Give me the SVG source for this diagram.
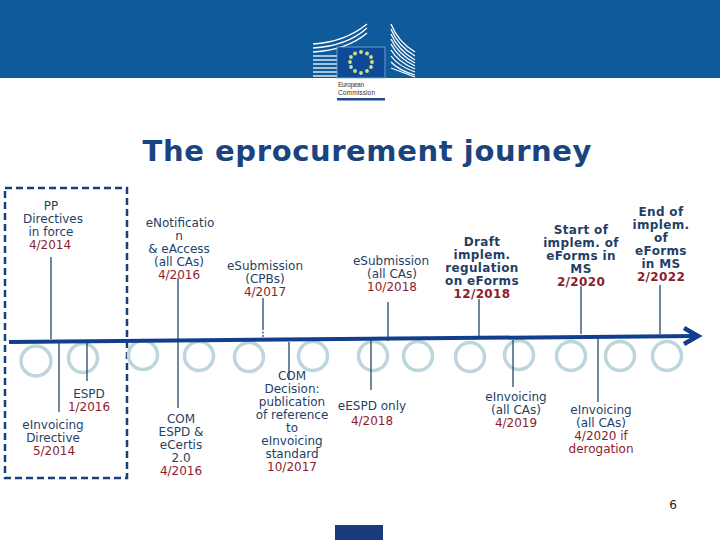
<svg xmlns="http://www.w3.org/2000/svg" width="720" height="540" viewBox="0 0 720 540">
<style>
text{font-family:"DejaVu Sans","Liberation Sans",sans-serif;text-anchor:middle;font-size:12px;fill:#1f3f66}
.d{fill:#8c1c2c}
.b{font-weight:bold;fill:#1f3f66;letter-spacing:.35px}
.bd{font-weight:bold;fill:#8c1c2c;letter-spacing:.35px}
.ring{fill:none;stroke:#bcd6dc;stroke-width:3.5}
.tick{fill:none;stroke:#17375e;stroke-width:1.2}
.bl{fill:none;stroke:#fff;stroke-width:1.3}
</style>
<defs><circle id="s" r="1.9" fill="#cfe08a"/></defs>
<rect width="720" height="540" fill="#fff"/>
<g id="header">
<rect width="720" height="78" fill="#0f5a9a"/>
<g class="bl">
<path d="M313 44Q345 42 367 24"/><path d="M313 48Q347 46 367 28"/><path d="M313 52Q347 50 367 33"/><path d="M313 56H337"/><path d="M313 60H337"/><path d="M313 64H337"/><path d="M313 68H337"/><path d="M313 72H337"/><path d="M313 76H337"/>
<path d="M391 24Q398 42 415 52"/><path d="M391 29Q398 46 415 56"/><path d="M391 34Q398 50 415 60"/><path d="M391 39Q398 54 415 63"/><path d="M391 44Q398 58 415 66"/><path d="M391 50Q398 62 415 69"/><path d="M391 56Q398 66 415 72"/><path d="M391 62Q398 70 415 75"/><path d="M391 68L415 77"/>
</g>
<rect x="337" y="47" width="48" height="31" fill="#0f4a96" stroke="#7fb0d8" stroke-width=".8"/>
<use href="#s" x="361" y="52"/><use href="#s" x="367" y="53.500"/><use href="#s" x="371" y="57"/><use href="#s" x="372" y="62"/><use href="#s" x="371" y="67"/><use href="#s" x="367" y="71"/><use href="#s" x="361" y="73"/><use href="#s" x="355" y="71"/><use href="#s" x="351" y="67"/><use href="#s" x="350" y="62"/><use href="#s" x="351" y="57"/><use href="#s" x="355" y="53.500"/>
<text x="338" y="87" textLength="26" style="font-size:6.500px;text-anchor:start;fill:#333;font-family:'Liberation Sans',sans-serif">European</text>
<text x="338" y="95" textLength="37" style="font-size:6.500px;text-anchor:start;fill:#333;font-family:'Liberation Sans',sans-serif">Commission</text>
<rect x="337" y="98" width="48" height="2.500" fill="#1f4a8c"/>
</g>
<text id="title" x="367" y="161" style="font-size:29px;font-weight:bold;fill:#1a4480" textLength="449" lengthAdjust="spacing">The eprocurement journey</text>
<rect id="frame" x="5" y="188" width="122" height="290" fill="none" stroke="#17407c" stroke-width="2.500" stroke-dasharray="7 4"/>
<g id="rings">
<circle class="ring" cx="36" cy="361" r="15"/><circle class="ring" cx="83" cy="358" r="14.500"/><circle class="ring" cx="143" cy="355" r="14.500"/><circle class="ring" cx="199" cy="356" r="14.500"/><circle class="ring" cx="249" cy="357" r="14.500"/><circle class="ring" cx="313" cy="356" r="14.500"/><circle class="ring" cx="373" cy="356" r="14.500"/><circle class="ring" cx="418" cy="356" r="14.500"/><circle class="ring" cx="470" cy="357" r="14.500"/><circle class="ring" cx="519" cy="355" r="14.500"/><circle class="ring" cx="571" cy="356" r="14.500"/><circle class="ring" cx="620" cy="356" r="14.500"/><circle class="ring" cx="667" cy="356" r="14.500"/>
</g>
<g id="connectors">
<path class="tick" d="M51 257V339M59 342V412M87 342V381M178 278V408M263 298V328M289 342V380M371 340V390M388 302V341M479 299V336M513 340V387M581 286V334M598 338V402M660 285V334"/>
<path class="tick" d="M263 328V337" stroke-dasharray="2 1.500"/>
<path d="M9 342L695 336" fill="none" stroke="#123f8c" stroke-width="4"/>
<path d="M684 328L698 336L684 344" fill="none" stroke="#123f8c" stroke-width="4.500"/>
</g>
<g id="n1"><text x="51" y="210">PP</text><text x="53" y="223">Directives</text><text x="51" y="236">in force</text><text class="d" x="50" y="249">4/2014</text></g>
<g id="n2"><text x="89" y="398">ESPD</text><text class="d" x="89" y="411">1/2016</text></g>
<g id="n3"><text x="53" y="429">eInvoicing</text><text x="53" y="442">Directive</text><text class="d" x="54" y="455">5/2014</text></g>
<g id="n4"><text x="180" y="227">eNotificatio</text><text x="179" y="240">n</text><text x="179" y="253">&amp; eAccess</text><text x="179" y="266">(all CAs)</text><text class="d" x="179" y="279">4/2016</text></g>
<g id="n5"><text x="181" y="423">COM</text><text x="181" y="436">ESPD &amp;</text><text x="181" y="449">eCertis</text><text x="181" y="462">2.0</text><text class="d" x="181" y="475">4/2016</text></g>
<g id="n6"><text x="265" y="270">eSubmission</text><text x="265" y="283">(CPBs)</text><text class="d" x="265" y="296">4/2017</text></g>
<g id="n7"><text x="292" y="380">COM</text><text x="292" y="393">Decision:</text><text x="292" y="406">publication</text><text x="292" y="419">of reference</text><text x="292" y="432">to</text><text x="292" y="445">eInvoicing</text><text x="292" y="458">standard</text><text class="d" x="292" y="471">10/2017</text></g>
<g id="n8"><text x="372" y="410">eESPD only</text><text class="d" x="372" y="425">4/2018</text></g>
<g id="n9"><text x="391" y="265">eSubmission</text><text x="392" y="278">(all CAs)</text><text class="d" x="392" y="291">10/2018</text></g>
<g id="n10"><text class="b" x="482" y="246">Draft</text><text class="b" x="482" y="259">implem.</text><text class="b" x="482" y="272">regulation</text><text class="b" x="482" y="285">on eForms</text><text class="bd" x="482" y="298">12/2018</text></g>
<g id="n11"><text x="516" y="401">eInvoicing</text><text x="516" y="414">(all CAs)</text><text class="d" x="516" y="427">4/2019</text></g>
<g id="n12"><text class="b" x="581" y="234">Start of</text><text class="b" x="581" y="247">implem. of</text><text class="b" x="581" y="260">eForms in</text><text class="b" x="581" y="273">MS</text><text class="bd" x="581" y="286">2/2020</text></g>
<g id="n13"><text x="601" y="414">eInvoicing</text><text x="601" y="427">(all CAs)</text><text class="d" x="601" y="440">4/2020 if</text><text class="d" x="601" y="453">derogation</text></g>
<g id="n14"><text class="b" x="661" y="216">End of</text><text class="b" x="661" y="229">implem.</text><text class="b" x="661" y="242">of</text><text class="b" x="661" y="255">eForms</text><text class="b" x="661" y="268">in MS</text><text class="bd" x="661" y="281">2/2022</text></g>
<text id="page" x="673" y="509" style="fill:#222">6</text>
<rect id="footer" x="335" y="525" width="48" height="15" fill="#1a3a80"/>
</svg>
